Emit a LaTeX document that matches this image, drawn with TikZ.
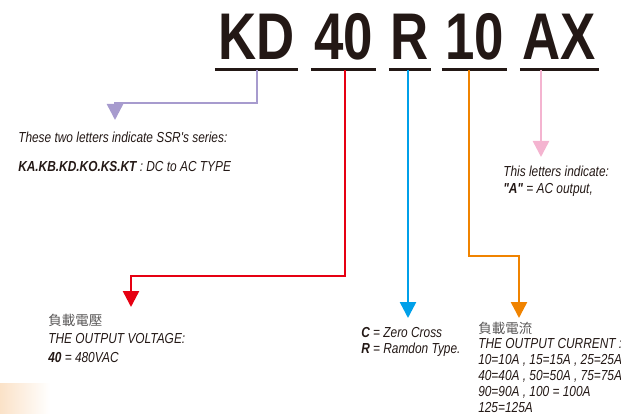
\documentclass[tikz,border=0pt]{standalone}
\usepackage{fontspec}
\setmainfont{Liberation Sans}[FakeStretch=0.82, Ligatures=TeXOff]
\newfontfamily\codefont{Liberation Sans}[FakeStretch=0.8]
\newfontfamily\cjk{Noto Sans CJK TC}
\usetikzlibrary{arrows.meta}
\definecolor{ink}{RGB}{35,24,21}
\definecolor{zhgray}{RGB}{89,87,87}
\definecolor{lavender}{RGB}{167,155,206}
\definecolor{ssrred}{RGB}{230,0,18}
\definecolor{ssrblue}{RGB}{0,160,233}
\definecolor{ssrorange}{RGB}{240,131,0}
\definecolor{ssrpink}{RGB}{244,180,208}
\definecolor{peach}{RGB}{251,226,200}

\begin{document}
\begin{tikzpicture}[x=1pt, y=-1pt, line width=2.5pt,
  code/.style={font=\codefont\bfseries\fontsize{66}{66}\selectfont, text=ink, inner sep=0pt, text depth=0pt, anchor=base},
  note/.style={font=\itshape\fontsize{14.5}{17}\selectfont, text=ink, inner sep=0pt, anchor=base west},
  zh/.style={font=\cjk\fontsize{13.5}{16}\selectfont, text=zhgray, inner sep=0pt, anchor=base west},
  rule/.style={draw=ink, line width=3pt},
  lead/.style={-{Triangle[width=16pt,length=16pt]}}]
  \newcommand{\ruledrop}{8pt}
  \useasboundingbox (0,0) rectangle (621,414);
  \shade[left color=peach, right color=white] (0,383) rectangle (50,414);

  \node[code, minimum width=81] at (256.5,60) (kd) {KD};
  \node[code, minimum width=63] at (343.5,60) (v40) {40};
  \node[code, minimum width=40] at (410,60) (r) {R};
  \node[code, minimum width=63] at (474.5,60) (i10) {10};
  \node[code, minimum width=77] at (559.5,60) (ax) {AX};
  \foreach \n in {kd,v40,r,i10,ax}
    \draw[rule] ([yshift=-\ruledrop]\n.south west) -- ([yshift=-\ruledrop]\n.south east);

  \coordinate (kdfoot) at (257,70);
  \coordinate (kdbend) at (115,103);
  \coordinate (kdtip) at (115,120);
  \coordinate (v40foot) at (345,70);
  \coordinate (v40bend) at (131,276);
  \coordinate (v40tip) at (131,307);
  \coordinate (rfoot) at (408,70);
  \coordinate (rtip) at (408,318);
  \coordinate (i10foot) at (469,70);
  \coordinate (i10bend) at (519,256);
  \coordinate (i10tip) at (519,318);
  \coordinate (axfoot) at (541,70);
  \coordinate (axtip) at (541,157);

  \draw[lead, lavender] (kdfoot) |- (kdbend) -- (kdtip);
  \draw[lead, ssrred] (v40foot) |- (v40bend) -- (v40tip);
  \draw[lead, ssrblue] (rfoot) -- (rtip);
  \draw[lead, ssrorange] (i10foot) |- (i10bend) -- (i10tip);
  \draw[lead, ssrpink] (axfoot) -- (axtip);

  \node[note] at (17,143) (series) {These two letters indicate SSR's series:};
  \node[note] at (17,172) (types) {\textbf{KA.KB.KD.KO.KS.KT} : DC to AC TYPE};

  \node[note] at (502,177) (letters) {This letters indicate:};
  \node[note] at (502,194) (acout) {\textbf{"A"} = AC output,};

  \node[zh] at (47,325) (vzh) {負載電壓};
  \node[note] at (47,343) (vtitle) {THE OUTPUT VOLTAGE:};
  \node[note] at (47,362) (vvalue) {\textbf{40} = 480VAC};

  \node[note] at (360,337) (czero) {\textbf{C} = Zero Cross};
  \node[note] at (360,353) (rtype) {\textbf{R} = Ramdon Type.};

  \node[zh] at (477,333) (izh) {負載電流};
  \node[note] at (477,348) (ititle) {THE OUTPUT CURRENT :};
  \node[note] at (477,364) (ivalue1) {10=10A , 15=15A , 25=25A};
  \node[note] at (477,380) (ivalue2) {40=40A , 50=50A , 75=75A};
  \node[note] at (477,396) (ivalue3) {90=90A , 100 = 100A};
  \node[note] at (477,412) (ivalue4) {125=125A};
\end{tikzpicture}
\end{document}
